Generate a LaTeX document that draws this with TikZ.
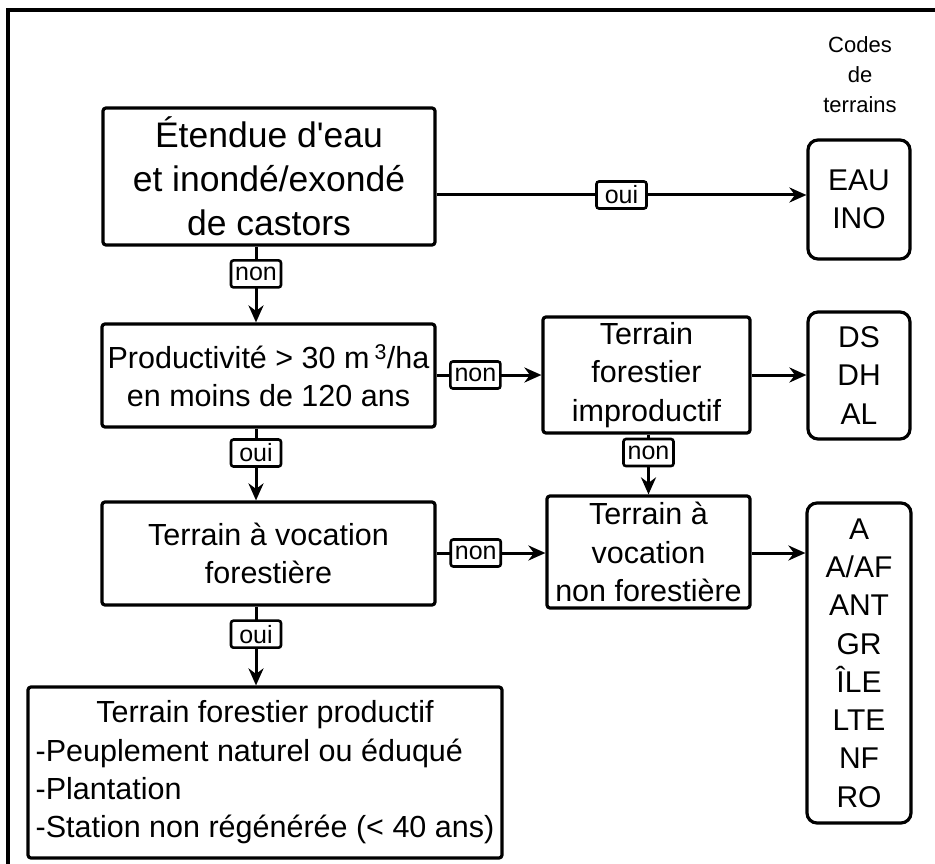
\documentclass[tikz,border=0pt]{standalone}
\usepackage{fontspec}
\setmainfont{Liberation Sans}
\usetikzlibrary{arrows.meta}
\begin{document}
\begin{tikzpicture}[x=1pt,y=-1pt,
 box/.style={draw, line width=3.2pt, rounded corners=3pt, align=center, inner sep=0pt},
 big/.style={font=\fontsize{35.5}{44}\selectfont},
 mid/.style={font=\fontsize{30.5}{38.3}\selectfont},
 code/.style={draw, line width=3.2pt, rounded corners=10pt, align=center, inner sep=0pt, font=\fontsize{30}{38.3}\selectfont},
 lbl/.style={draw, fill=white, line width=2.6pt, rounded corners=2.5pt, inner sep=1pt, font=\fontsize{25}{26}\selectfont, minimum width=50pt, minimum height=27pt},
 arr/.style={line width=3pt, -{Stealth[length=17pt,width=15pt,inset=5.5pt]}},
]
\useasboundingbox (0,0) rectangle (935,864);
\draw[line width=3.2pt] (8,864) -- (8,10) -- (935,10);

\node[font=\fontsize{22}{30}\selectfont, align=center] (codes) at (860,75) {Codes\\de\\terrains};

\node[box, big, minimum width=332pt, minimum height=137pt] (b1) at (269,176.5)
  {Étendue d\textquotesingle eau\\et inondé/exondé\\de castors};
\node[box, mid, minimum width=333pt, minimum height=103pt] (b2) at (268.5,375.5)
  {Productivité > 30 m\,\textsuperscript{3}/ha\\en moins de 120 ans};
\node[box, mid, minimum width=333pt, minimum height=103pt] (b3) at (268.5,553.5)
  {Terrain à vocation\\forestière};
\node[box, mid, minimum width=474pt, minimum height=171pt] (b4) at (265,772.5)
  {\begin{tabular}{@{}l@{}}\multicolumn{1}{@{}c@{}}{Terrain forestier productif}\\
   -Peuplement naturel ou éduqué\\-Plantation\\-Station non régénérée (< 40 ans)\end{tabular}};
\node[box, mid, minimum width=207pt, minimum height=116pt] (imp) at (646.5,375)
  {Terrain\\forestier\\improductif};
\node[box, mid, minimum width=203pt, minimum height=112pt] (nonf) at (648.5,552)
  {Terrain à\\vocation\\non forestière};

\node[code, minimum width=102pt, minimum height=119pt] (eau) at (859,199.5) {EAU\\INO};
\node[code, minimum width=102pt, minimum height=127pt] (ds) at (859,375.5) {DS\\DH\\AL};
\node[code, minimum width=104pt, minimum height=320pt] (ac) at (859,663)
  {A\\A/AF\\ANT\\GR\\ÎLE\\LTE\\NF\\RO};

\coordinate (vx) at (256,0);
\coordinate (r1) at (0,195);
\coordinate (r2) at (0,375);
\coordinate (r3) at (0,553);

\draw[arr] (b1.south -| vx) -- node[lbl, pos=0.36] {non} (b2.north -| vx);
\draw[arr] (b2.south -| vx) -- node[lbl, pos=0.34] {oui} (b3.north -| vx);
\draw[arr] (b3.south -| vx) -- node[lbl, pos=0.35] {oui} (b4.north -| vx);
\draw[arr] (b1.east |- r1) -- node[lbl, pos=0.5] {oui} (eau.west |- r1);
\draw[arr] (b2.east |- r2) -- node[lbl, pos=0.37] {non} (imp.west |- r2);
\draw[arr] (imp.east |- r2) -- (ds.west |- r2);
\draw[arr] (imp.south -| nonf.north) -- node[lbl, pos=0.3] {non} (nonf.north);
\draw[arr] (b3.east |- r3) -- node[lbl, pos=0.36] {non} (nonf.west |- r3);
\draw[arr] (nonf.east |- r3) -- (ac.west |- r3);
\end{tikzpicture}
\end{document}
